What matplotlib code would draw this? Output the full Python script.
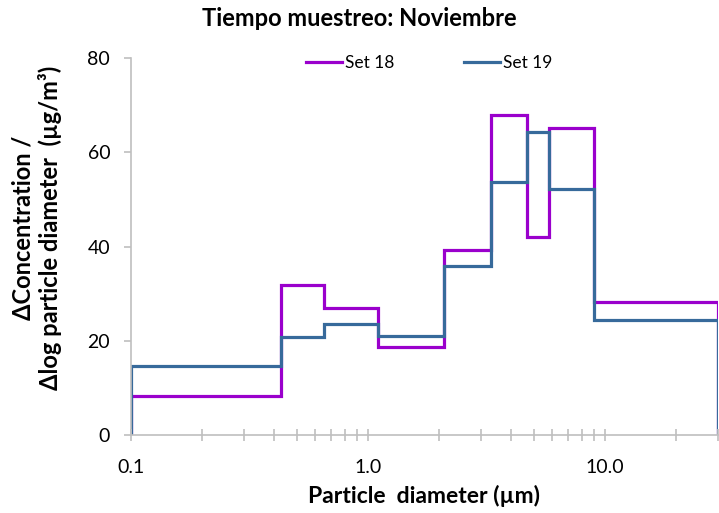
import matplotlib
matplotlib.use("Agg")
import matplotlib.pyplot as plt
from matplotlib.ticker import FixedLocator, FuncFormatter, NullFormatter

# Cascade impactor stage cut diameters (µm)
bin_edges = [0.1, 0.43, 0.65, 1.1, 2.1, 3.3, 4.7, 5.8, 9.0, 30.0]

# dC / dlogDp (µg/m³) for each stage
set18 = [8.3, 31.8, 26.9, 18.7, 39.2, 67.8, 42.1, 65.2, 28.2]
set19 = [14.6, 20.8, 23.5, 21.1, 35.9, 53.6, 64.4, 52.2, 24.4]

series_names = ["Set 18", "Set 19"]
major_ticks = [0.1, 1.0, 10.0]
y_ticks = [0, 20, 40, 60, 80]

plt.rcParams['font.family'] = ['Lato', 'DejaVu Sans']

fig = plt.figure(figsize=(7.19, 5.13), dpi=100)
ax = fig.add_axes([131 / 719, 1 - 435 / 513, (718 - 131) / 719, (435 - 58) / 513])

purple = '#9A00CC'
blue = '#376A9B'

ax.stairs(set18, bin_edges, baseline=0, color=purple, linewidth=2.3, label=series_names[0])
ax.stairs(set19, bin_edges, baseline=0, color=blue, linewidth=2.3, label=series_names[1])

ax.set_xscale('log')
ax.set_xlim(bin_edges[0], bin_edges[-1])
ax.set_ylim(0, 80)

ax.xaxis.set_major_locator(FixedLocator(major_ticks))
ax.xaxis.set_major_formatter(FuncFormatter(lambda v, p: f"{v:.1f}"))
minor = [m * d for d in (0.1, 1.0, 10.0) for m in range(2, 10) if m * d <= 30]
ax.xaxis.set_minor_locator(FixedLocator(minor))
ax.xaxis.set_minor_formatter(NullFormatter())
ax.set_yticks(y_ticks)

for s in ('top', 'right'):
    ax.spines[s].set_visible(False)
for s in ('left', 'bottom'):
    ax.spines[s].set_color('#BFBFBF')
    ax.spines[s].set_linewidth(1.2)

ax.tick_params(axis='x', which='both', direction='inout', length=9, width=1.2,
               color='#BFBFBF', labelsize=14, pad=13)
ax.tick_params(axis='y', which='major', direction='out', length=5, width=1.2,
               color='#BFBFBF', labelsize=14, pad=10)

ax.set_xlabel("Particle  diameter (µm)", fontsize=16.5, fontweight='bold', labelpad=6)
ax.set_ylabel("ΔConcentration /\nΔlog particle diameter  (µg/m³)",
              fontsize=17, fontweight='bold', linespacing=1.15)
ax.yaxis.set_label_coords(-0.118, 0.55)

fig.text(0.5, 1 - 19 / 513, "Tiempo muestreo: Noviembre", ha='center', va='center',
         fontsize=17, fontweight='bold')

ax.legend(loc='center', bbox_to_anchor=(0.508, 0.986), ncol=2, frameon=False,
          fontsize=12.5, handlelength=2.1, handletextpad=0.15, columnspacing=4.0)

fig.savefig("out.png", dpi=100)
